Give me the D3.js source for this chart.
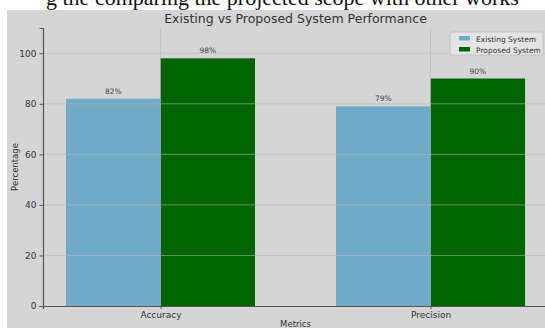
<!DOCTYPE html>
<html>
<head>
<meta charset="utf-8">
<script src="https://cdn.jsdelivr.net/npm/d3@7"></script>
<style>
  body { margin: 0; background: #fff; }
  svg { display: block; font-family: "DejaVu Sans", sans-serif; }
</style>
</head>
<body>
<script>
// data
const metrics = ['Accuracy', 'Precision'];
const existing = [82, 79];
const proposed = [98, 90];
const seriesNames = ['Existing System', 'Proposed System'];
const yTicks = [0, 20, 40, 60, 80, 100];

const W = 545, H = 328;
const colors = ['#72abc7', '#006400'];

const svg = d3.select('body').append('svg')
  .attr('width', W).attr('height', H);

// cropped caption line from the page above the figure
svg.append('clipPath').attr('id', 'topclip')
  .append('rect').attr('x', 0).attr('y', 0).attr('width', W).attr('height', 10);
svg.append('text')
  .attr('clip-path', 'url(#topclip)')
  .attr('x', 46).attr('y', 5)
  .attr('font-family', 'Liberation Serif, serif')
  .attr('font-size', 22)
  .attr('fill', '#111')
  .text('g the comparing the projected scope with other works');

// figure background
svg.append('rect')
  .attr('x', 7).attr('y', 10).attr('width', W - 7).attr('height', H - 10)
  .attr('fill', '#d5d5d5');

// scales
const x = d3.scaleLinear().domain([-0.435, 1.435]).range([43, 548]);
const y = d3.scaleLinear().domain([0, 110]).range([306, 28]);
const barW = x(0.35) - x(0);

// bars
const groups = [existing, proposed];
groups.forEach((vals, s) => {
  svg.append('g').selectAll('rect')
    .data(vals)
    .join('rect')
    .attr('x', (d, i) => s === 0 ? x(i) - barW : x(i))
    .attr('y', d => y(d))
    .attr('width', barW)
    .attr('height', d => y(0) - y(d))
    .attr('fill', colors[s]);

  svg.append('g').selectAll('text')
    .data(vals)
    .join('text')
    .attr('x', (d, i) => s === 0 ? x(i) - barW / 2 : x(i) + barW / 2)
    .attr('y', d => y(d) - 5)
    .attr('text-anchor', 'middle')
    .attr('font-size', 7.5)
    .attr('fill', '#444')
    .text(d => d + '%');
});

// gridlines (drawn over the bars, faint)
const grid = svg.append('g').attr('stroke', '#b8b8b8').attr('stroke-width', 0.8).attr('opacity', 0.7);
grid.selectAll('.hg').data(yTicks.filter(t => t > 0)).join('line')
  .attr('x1', x.range()[0]).attr('x2', x.range()[1])
  .attr('y1', d => y(d)).attr('y2', d => y(d));
grid.selectAll('.vg').data(metrics).join('line')
  .attr('x1', (d, i) => x(i)).attr('x2', (d, i) => x(i))
  .attr('y1', y(110)).attr('y2', y(0));

// axes
const yAxis = svg.append('g')
  .attr('transform', `translate(${x.range()[0]},0)`)
  .call(d3.axisLeft(y).tickValues(yTicks).tickSize(3.5).tickPadding(3));
const xAxis = svg.append('g')
  .attr('transform', `translate(0,${y(0)})`)
  .call(d3.axisBottom(x).tickValues([0, 1]).tickFormat(i => metrics[i]).tickSize(3).tickPadding(3));
[yAxis, xAxis].forEach(a => {
  a.select('.domain').attr('stroke', '#555').attr('stroke-width', 1.2);
  a.selectAll('.tick line').attr('stroke', '#555');
  a.selectAll('.tick text').attr('fill', '#333').attr('font-size', 9).attr('font-family', 'DejaVu Sans, sans-serif');
});

// title and axis labels
svg.append('text')
  .attr('x', (x.range()[0] + x.range()[1]) / 2).attr('y', 23)
  .attr('text-anchor', 'middle')
  .attr('font-size', 12.5)
  .attr('fill', '#333')
  .text('Existing vs Proposed System Performance');

svg.append('text')
  .attr('transform', `translate(18,${(y(0) + y(110)) / 2}) rotate(-90)`)
  .attr('text-anchor', 'middle')
  .attr('font-size', 8.5)
  .attr('fill', '#333')
  .text('Percentage');

svg.append('text')
  .attr('x', (x.range()[0] + x.range()[1]) / 2).attr('y', 327)
  .attr('text-anchor', 'middle')
  .attr('font-size', 8.5)
  .attr('fill', '#333')
  .text('Metrics');

// legend
const lg = svg.append('g').attr('transform', 'translate(450,32)');
lg.append('rect')
  .attr('width', 93).attr('height', 23).attr('rx', 2)
  .attr('fill', '#e4e4e4').attr('stroke', '#bdbdbd').attr('stroke-width', 0.8);
seriesNames.forEach((name, i) => {
  lg.append('rect')
    .attr('x', 9).attr('y', 4 + i * 11).attr('width', 11).attr('height', 4.5)
    .attr('fill', colors[i]);
  lg.append('text')
    .attr('x', 26).attr('y', 9.5 + i * 11)
    .attr('font-size', 7.5)
    .attr('fill', '#333')
    .text(name);
});
</script>
</body>
</html>
